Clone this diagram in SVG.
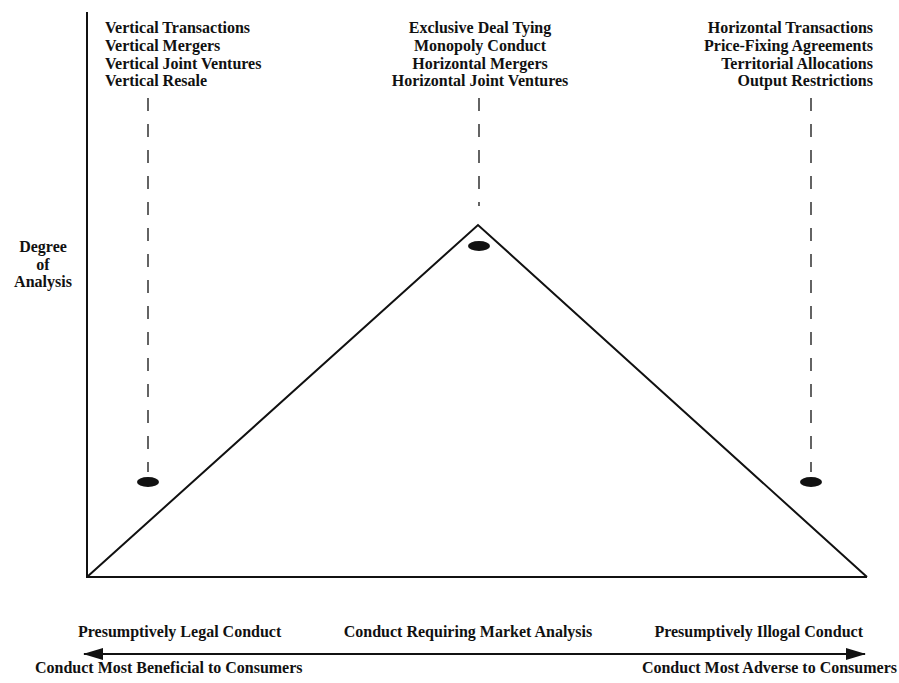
<svg xmlns="http://www.w3.org/2000/svg" width="899" height="683" viewBox="0 0 899 683">
<style>
text{font-family:"Liberation Serif","Times New Roman",serif;font-size:16px;font-weight:bold;fill:#111}
.m{text-anchor:middle}
.e{text-anchor:end}
.dash{stroke:#111;stroke-width:1.3;stroke-dasharray:13 13;fill:none}
.ln{stroke:#111;stroke-width:2;fill:none}
</style>
<defs>
<marker id="ah" viewBox="0 0 20 12" refX="19" refY="6" markerWidth="20" markerHeight="12" markerUnits="userSpaceOnUse" orient="auto-start-reverse">
<path d="M0,0 L20,6 L0,12 Z" fill="#111"/>
</marker>
</defs>
<rect width="899" height="683" fill="#fff"/>
<g id="axes">
<line class="ln" x1="87" y1="12" x2="87" y2="577"/>
<line class="ln" x1="86" y1="577" x2="867" y2="577"/>
</g>
<g id="triangle">
<polyline class="ln" points="87,577 478,225 867,577"/>
</g>
<g id="connectors">
<line class="dash" x1="148" y1="98" x2="148" y2="472"/>
<line class="dash" x1="479" y1="98" x2="479" y2="206"/>
<line class="dash" x1="811" y1="98" x2="811" y2="472"/>
<line stroke="#111" stroke-width="2" x1="84" y1="654" x2="865" y2="654" marker-start="url(#ah)" marker-end="url(#ah)"/>
</g>
<g id="node-left">
<text x="105" y="33">Vertical Transactions</text>
<text x="105" y="51">Vertical Mergers</text>
<text x="105" y="69">Vertical Joint Ventures</text>
<text x="105" y="86">Vertical Resale</text>
<ellipse cx="148" cy="482" rx="11" ry="5" fill="#111"/>
</g>
<g id="node-center">
<text class="m" x="480" y="33">Exclusive Deal Tying</text>
<text class="m" x="480" y="51">Monopoly Conduct</text>
<text class="m" x="480" y="69">Horizontal Mergers</text>
<text class="m" x="480" y="86">Horizontal Joint Ventures</text>
<ellipse cx="479" cy="246" rx="11" ry="5" fill="#111"/>
</g>
<g id="node-right">
<text class="e" x="873" y="33">Horizontal Transactions</text>
<text class="e" x="873" y="51">Price-Fixing Agreements</text>
<text class="e" x="873" y="69">Territorial Allocations</text>
<text class="e" x="873" y="86">Output Restrictions</text>
<ellipse cx="811" cy="482" rx="11" ry="5" fill="#111"/>
</g>
<g id="y-label">
<text class="m" x="43" y="252">Degree</text>
<text class="m" x="43" y="270">of</text>
<text class="m" x="43" y="287">Analysis</text>
</g>
<g id="x-labels">
<text x="78" y="637">Presumptively Legal Conduct</text>
<text class="m" x="468" y="637">Conduct Requiring Market Analysis</text>
<text class="e" x="863" y="637">Presumptively Illogal Conduct</text>
<text x="35" y="673">Conduct Most Beneficial to Consumers</text>
<text class="e" x="897" y="673">Conduct Most Adverse to Consumers</text>
</g>
</svg>
